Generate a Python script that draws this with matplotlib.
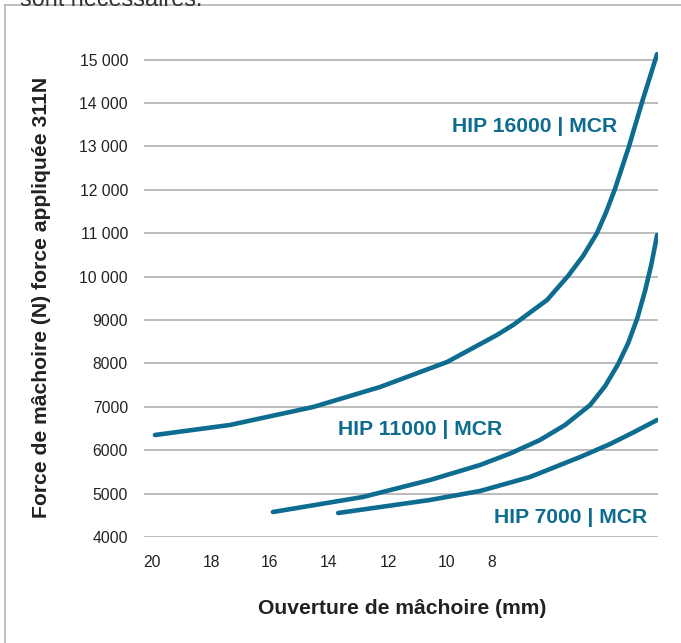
import matplotlib
matplotlib.use('Agg')
import matplotlib.pyplot as plt
from matplotlib.lines import Line2D

plt.rcParams['font.family'] = ['Liberation Sans', 'DejaVu Sans']

# jaw opening (mm) vs jaw force (N)
jaw_16000 = [19.90, 17.36, 14.54, 12.27, 10.00, 8.31, 7.76, 6.61, 5.90, 5.39,
             4.92, 4.61, 4.31, 3.83, 3.39, 2.88]
force_16000 = [6350, 6581, 6995, 7456, 8032, 8654, 8885, 9461, 10014, 10475,
               11000, 11480, 12018, 13009, 14022, 15128]

jaw_11000 = [15.90, 12.85, 10.58, 8.88, 7.86, 6.85, 6.00, 5.15, 4.64, 4.20,
             3.86, 3.56, 3.29, 3.08, 2.88]
force_11000 = [4576, 4922, 5313, 5659, 5924, 6235, 6581, 7041, 7480, 7986,
               8470, 9023, 9668, 10267, 10958]

jaw_7000 = [13.69, 10.58, 8.88, 7.19, 5.49, 4.51, 3.69, 2.88]
force_7000 = [4553, 4853, 5060, 5382, 5843, 6131, 6408, 6696]

x_tick_pos = [20, 18, 16, 14, 12, 10, 8.5]
x_tick_labels = ['20', '18', '16', '14', '12', '10', '8']
y_ticks = [4000, 5000, 6000, 7000, 8000, 9000, 10000, 11000, 12000, 13000, 14000, 15000]
y_tick_labels = ['4000', '5000', '6000', '7000', '8000', '9000',
                 '10 000', '11 000', '12 000', '13 000', '14 000', '15 000']

blue = '#0d6c8f'
W, H = 681, 643

fig = plt.figure(figsize=(W / 100, H / 100), dpi=100)
ax = fig.add_axes([144 / W, (H - 537) / H, 514 / W, (537 - 46.6) / H])

for xs, ys in [(jaw_16000, force_16000), (jaw_11000, force_11000), (jaw_7000, force_7000)]:
    ax.plot(xs, ys, color=blue, lw=3.3, solid_capstyle='round', solid_joinstyle='round', zorder=3)

ax.set_xlim(20.27, 2.85)
ax.set_ylim(4000, 15300)
ax.set_xticks(x_tick_pos, x_tick_labels)
ax.set_yticks(y_ticks, y_tick_labels)
ax.tick_params(axis='both', length=0, labelsize=11.3, colors='#222222')
ax.tick_params(axis='x', pad=13)
ax.tick_params(axis='y', pad=11.5)
ax.grid(axis='y', color='#a9a9a9', lw=1.1)
ax.set_axisbelow(True)
for s in ax.spines.values():
    s.set_visible(False)

lbl = dict(color=blue, fontsize=15.2, fontweight='bold', ha='right', va='baseline')
ax.text(4.24, 13332, 'HIP 16000 | MCR', **lbl)
ax.text(8.14, 6350, 'HIP 11000 | MCR', **lbl)
ax.text(3.22, 4323, 'HIP 7000 | MCR', **lbl)

fig.text(42 / W, 1 - 297 / H, 'Force de mâchoire (N) force appliquée 311N',
         rotation=90, ha='center', va='center', fontsize=15.2, fontweight='bold', color='#222222')
fig.text(402 / W, 1 - 614 / H, 'Ouverture de mâchoire (mm)',
         ha='center', va='baseline', fontsize=15.2, fontweight='bold', color='#222222')

# frame of the figure box and the cut text above it
fig.add_artist(Line2D([5 / W, 5 / W], [0, 1 - 5 / H], color='#b5b5b5', lw=1.2))
fig.add_artist(Line2D([5 / W, 1], [1 - 5 / H, 1 - 5 / H], color='#b5b5b5', lw=1.2))
fig.text(20 / W, 1 - 5.5 / H, 'sont nécessaires.', ha='left', va='baseline',
         fontsize=16.8, color='#333333')

fig.savefig('out.png', dpi=100)
